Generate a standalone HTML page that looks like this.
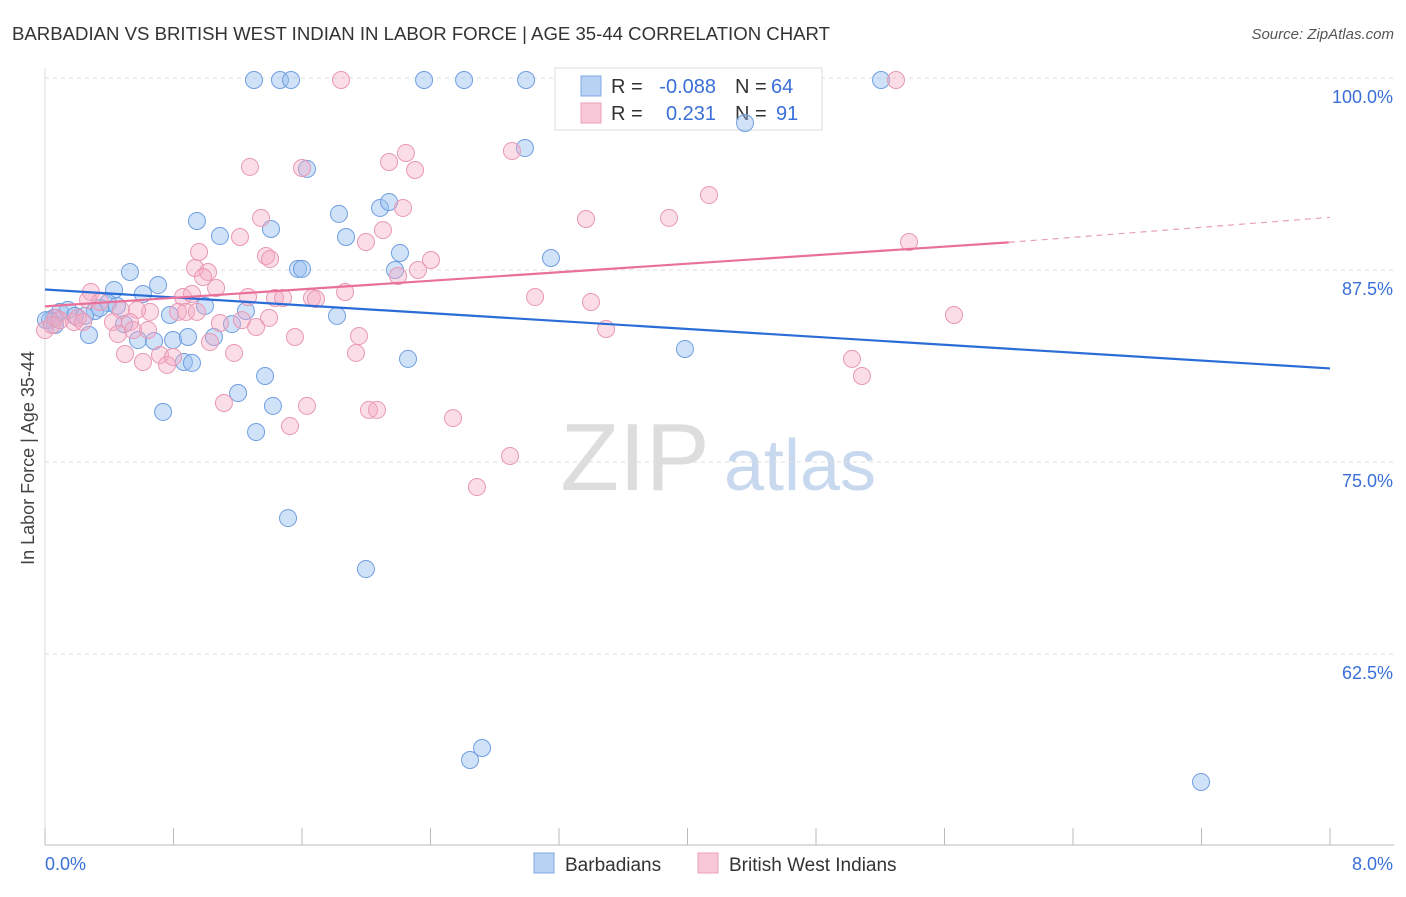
<!DOCTYPE html>
<html><head><meta charset="utf-8"><style>
body{margin:0;background:#fff;font-family:"Liberation Sans",sans-serif;}
svg text{font-family:"Liberation Sans",sans-serif;}
</style></head><body>
<svg id="c" width="1406" height="892">
<text x="12" y="40" font-size="18.6" fill="#333" textLength="818">BARBADIAN VS BRITISH WEST INDIAN IN LABOR FORCE | AGE 35-44 CORRELATION CHART</text>
<text x="1394" y="39" font-size="15" fill="#555" font-style="italic" text-anchor="end">Source: ZipAtlas.com</text>
<text x="34" y="458" font-size="18" fill="#444" text-anchor="middle" transform="rotate(-90 34 458)">In Labor Force | Age 35-44</text>
<text x="635" y="490" font-size="96" fill="#ddd" font-family="Liberation Serif" text-anchor="middle">ZIP</text>
<text x="800" y="490" font-size="72" fill="#c8d8ee" text-anchor="middle">atlas</text>
<g id="grid"></g>
<g>
<rect x="555" y="68" width="267" height="62" fill="#fff" stroke="#ddd"/>
<rect x="581" y="76" width="20" height="20" fill="#b8d2f4" stroke="#7fa8e0"/>
<rect x="581" y="103" width="20" height="20" fill="#f8c8d8" stroke="#eaa0bb"/>
<text x="611" y="93" font-size="20" fill="#333">R =</text>
<text x="716" y="93" font-size="20" fill="#3a6fd8" text-anchor="end">-0.088</text>
<text x="735" y="93" font-size="20" fill="#333">N =</text>
<text x="771" y="93" font-size="20" fill="#3a6fd8">64</text>
<text x="611" y="120" font-size="20" fill="#333">R =</text>
<text x="716" y="120" font-size="20" fill="#3a6fd8" text-anchor="end">0.231</text>
<text x="735" y="120" font-size="20" fill="#333">N =</text>
<text x="776" y="120" font-size="20" fill="#3a6fd8">91</text>
</g>
<g id="pts"></g><g id="lines"></g>
<g>
<rect x="534" y="853" width="20" height="20" fill="#b8d2f4" stroke="#7fa8e0"/>
<text x="565" y="871" font-size="19" fill="#333">Barbadians</text>
<rect x="698" y="853" width="20" height="20" fill="#f8c8d8" stroke="#eaa0bb"/>
<text x="729" y="871" font-size="19" fill="#333">British West Indians</text>
</g>
<text x="45" y="870" font-size="18" fill="#3a6fd8">0.0%</text>
<text x="1393" y="870" font-size="18" fill="#3a6fd8" text-anchor="end">8.0%</text>
</svg>
<script>
const yTicks=[100,87.5,75,62.5];
const yTickLabels=["100.0%","87.5%","75.0%","62.5%"];
const xTicks=[0,0.8,1.6,2.4,3.2,4.0,4.8,5.6,6.4,7.2,8.0];
const bluePx=[[254,80],[280,80],[291,80],[424,80],[464,80],[526,80],[881,80],[745,123],[525,148],[307,169],[197,221],[339,214],[380,208],[389,202],[220,236],[271,229],[346,237],[400,253],[551,258],[130,272],[298,269],[302,269],[395,270],[158,285],[114,290],[143,294],[108,303],[205,306],[60,312],[68,310],[95,311],[100,308],[117,306],[54,318],[75,316],[85,316],[50,320],[124,324],[170,315],[246,311],[337,316],[89,335],[138,340],[154,341],[173,340],[188,337],[214,337],[232,324],[184,362],[192,363],[408,359],[685,349],[265,376],[238,393],[163,412],[273,406],[256,432],[288,518],[366,569],[482,748],[470,760],[1201,782],[55,325],[46,320]];
const pinkPx=[[341,80],[896,80],[250,167],[302,168],[406,153],[389,162],[415,170],[512,151],[709,195],[586,219],[669,218],[403,208],[261,218],[240,237],[383,230],[366,242],[909,242],[199,252],[266,256],[270,259],[431,260],[418,270],[195,268],[208,272],[398,276],[203,277],[216,288],[91,292],[183,297],[192,294],[248,297],[275,298],[283,298],[312,298],[316,299],[345,292],[535,297],[591,302],[88,300],[100,302],[121,310],[150,312],[178,312],[186,312],[197,312],[137,310],[56,318],[74,322],[78,318],[83,322],[113,322],[130,322],[220,323],[242,320],[256,327],[269,318],[148,330],[118,334],[133,330],[359,336],[606,329],[954,315],[210,342],[125,354],[143,362],[160,355],[167,365],[173,357],[234,353],[295,337],[356,353],[852,359],[862,376],[224,403],[307,406],[369,410],[377,410],[290,426],[453,418],[510,456],[477,487],[45,330],[52,325],[60,320]];
const fx=p=>(p-45)/1285*8, fy=p=>100-(p-78)/192*12.5;
const blueX=bluePx.map(p=>+fx(p[0]).toFixed(3)), blueY=bluePx.map(p=>+fy(p[1]).toFixed(2));
const pinkX=pinkPx.map(p=>+fx(p[0]).toFixed(3)), pinkY=pinkPx.map(p=>+fy(p[1]).toFixed(2));
const blueLine=[[0,86.23],[8,81.09]];
const pinkLine=[[0,85.13],[6.0,89.3],[8,90.93]];
const X=v=>45+v/8*1285, Y=v=>78+(100-v)/12.5*192;
const NS="http://www.w3.org/2000/svg";
function mk(t,a,par){const e=document.createElementNS(NS,t);for(const k in a)e.setAttribute(k,a[k]);document.getElementById(par).appendChild(e);return e;}
yTicks.forEach((v,i)=>{
 const l=mk('line',{x1:45,x2:1394,y1:Y(v),y2:Y(v),stroke:'#ddd','stroke-dasharray':'4,4'},'grid');
 
 
 const t=mk('text',{x:1393,y:Y(v)+25,'font-size':18,fill:'#3a6fd8','text-anchor':'end'},'grid');t.textContent=yTickLabels[i];
 
 
});
const ax=mk('line',{x1:45,x2:1394,y1:845,y2:845,stroke:'#bbb'},'grid');


const ay=mk('line',{x1:45,x2:45,y1:68,y2:845,stroke:'#ddd'},'grid');


xTicks.forEach(v=>{const t=mk('line',{x1:X(v),x2:X(v),y1:828,y2:845,stroke:'#bbb'},'grid');
 
 });
blueX.forEach((v,i)=>{const c=mk('circle',{cx:X(v),cy:Y(blueY[i]),r:8.5,fill:'rgba(150,190,240,0.45)',stroke:'#6f9ee0','stroke-width':1},'pts');
 
 });
pinkX.forEach((v,i)=>{const c=mk('circle',{cx:X(v),cy:Y(pinkY[i]),r:8.5,fill:'rgba(245,170,195,0.4)',stroke:'#e898b5','stroke-width':1},'pts');
 
 });
const bl=mk('line',{x1:X(blueLine[0][0]),y1:Y(blueLine[0][1]),x2:X(blueLine[1][0]),y2:Y(blueLine[1][1]),stroke:'#2a6dd6','stroke-width':2.2},'lines');


const pl=mk('line',{x1:X(pinkLine[0][0]),y1:Y(pinkLine[0][1]),x2:X(pinkLine[1][0]),y2:Y(pinkLine[1][1]),stroke:'#e8709a','stroke-width':2.2},'lines');


const pd=mk('line',{x1:X(pinkLine[1][0]),y1:Y(pinkLine[1][1]),x2:X(pinkLine[2][0]),y2:Y(pinkLine[2][1]),stroke:'#e8a0b8','stroke-width':1.2,'stroke-dasharray':'6,5'},'lines');


</script>
</body></html>
